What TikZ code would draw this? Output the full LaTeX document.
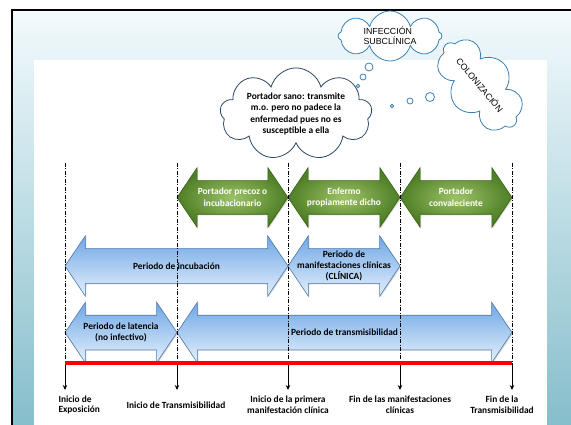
\documentclass[tikz,border=0pt]{standalone}
\usepackage{fontspec}
\setmainfont{Carlito}
\newfontfamily\arialfont{Liberation Sans}
\usetikzlibrary{shapes.arrows,shapes.symbols,shadows,arrows.meta}
\definecolor{bgtop}{HTML}{F3FAFD}
\definecolor{bgmid}{HTML}{E4F2F7}
\definecolor{bgbot}{HTML}{86BECB}
\definecolor{greendark}{HTML}{4E7E26}
\definecolor{greenlight}{HTML}{9DC266}
\definecolor{greenline}{HTML}{3C6419}
\definecolor{bluetop}{HTML}{6DA6E6}
\definecolor{bluebot}{HTML}{E6F1FC}
\definecolor{blueline}{HTML}{4D78A8}
\definecolor{cloudblue}{HTML}{3A80B4}
\definecolor{cloudnavy}{HTML}{2B4666}
\begin{document}
\begin{tikzpicture}
        [x=1pt, y=-1pt,
        greenArrow/.style={double arrow, double arrow tip angle=112, double arrow head extend=13, inner xsep=0pt, inner ysep=16.5pt,
            draw=greenline, line width=0.6pt, inner color=greenlight, outer color=greendark,
            drop shadow={opacity=0.3, shadow xshift=1pt, shadow yshift=-1pt}},
        blueArrow/.style={double arrow, double arrow tip angle=112, double arrow head extend=13, inner xsep=0pt, inner ysep=17pt,
            draw=blueline, line width=0.6pt, top color=bluetop, bottom color=bluebot,
            drop shadow={opacity=0.3, shadow xshift=1pt, shadow yshift=-1pt}},
        greenText/.style={align=center, text=white, font=\bfseries\fontsize{9.4}{11.6}\selectfont},
        blueText/.style={align=center, font=\bfseries\fontsize{9.4}{11.4}\selectfont},
        timeText/.style={align=center, font=\bfseries\fontsize{9.4}{10.8}\selectfont},
        cloudSoft/.style={cloud, cloud puffs=8, cloud ignores aspect, draw=cloudblue, line width=0.8pt, fill=white, inner sep=0pt,
            font=\arialfont\fontsize{8.8}{10.4}\selectfont},
        bubble/.style={circle, draw=cloudblue, line width=0.8pt, fill=white, inner sep=0pt}]
        \useasboundingbox (0,0) rectangle (571,425);

        % slide background
        \shade[top color=bgtop, middle color=bgmid, bottom color=bgbot] (12,10) rectangle (571,425);
        \fill[white] (34,60) rectangle (547,425);
        \draw[line width=2.2pt] (12,425) -- (12,10) -- (571,10);

        % clouds
        \node[cloud, cloud puffs=9, cloud ignores aspect, draw=cloudnavy, line width=0.8pt, fill=white, inner sep=0pt,
            minimum width=152, minimum height=88, align=center, font=\bfseries\fontsize{9.4}{11.3}\selectfont]
            (sano) at (296,114) {Portador sano: transmite\\m.o. pero no padece la\\enfermedad pues no es\\susceptible a ella};
        \node[cloudSoft, minimum width=104, minimum height=50, align=left] (subcl) at (390,36) {INFECCIÓN\\SUBCLÍNICA};
        \node[cloudSoft, minimum width=106, minimum height=64, rotate=-50] (colon) at (480,85) {COLONIZACIÓN};
        \node[bubble, minimum size=3.6] (s1) at (358,86) {};
        \node[bubble, minimum size=6] (s2) at (363,77) {};
        \node[bubble, minimum size=8] (s3) at (369,67) {};
        \node[bubble, minimum size=3.6] (c1) at (392,106) {};
        \node[bubble, minimum size=6] (c2) at (410,101) {};
        \node[bubble, minimum size=9] (c3) at (430,97) {};

        % time points
        \foreach \x/\t in {65/a,177/b,288/c,400/d,512/e}{
            \coordinate (up\t) at (\x,163);
            \coordinate (mid\t) at (\x,363);
            \coordinate (down\t) at (\x,390);
        }

        % carrier stages
        \node[greenArrow, minimum height=111] (precoz) at (232.5,197.5)
            {}; \node[greenText] at (precoz.center) {Portador precoz o\\incubacionario};
        \node[greenArrow, minimum height=112] (enfermo) at (344,197.5)
            {}; \node[greenText] at (enfermo.center) {Enfermo\\propiamente dicho};
        \node[greenArrow, minimum height=112] (conval) at (456,197.5)
            {}; \node[greenText] at (conval.center) {Portador\\convaleciente};

        % periods
        \node[blueArrow, minimum height=223] (incub) at (176.5,266)
            {}; \node[blueText] at (incub.center) {Periodo de incubación};
        \node[blueArrow, minimum height=112] (clin) at (344,266)
            {}; \node[blueText] at (clin.center) {Periodo de\\manifestaciones clínicas\\(CLÍNICA)};
        \node[blueArrow, minimum height=112] (laten) at (121,332.5)
            {}; \node[blueText] at (laten.center) {Periodo de latencia\\(no infectivo)};
        \node[blueArrow, minimum height=335] (transm) at (344.5,332.5)
            {}; \node[blueText] at (transm.center) {Periodo de transmisibilidad};

        \foreach \t in {a,b,c,d,e}{
            \draw[line width=0.9pt, dash pattern=on 4pt off 1.5pt on 1pt off 1.5pt] (up\t) -- (mid\t);
            \draw[line width=0.9pt, -{Stealth[length=5pt, width=4.5pt]}] (mid\t) -- (down\t);
        }
        \draw[red, line width=4pt] (mida) -- (mide);

        \node[timeText, anchor=west, align=left] (expo) at (55,405) {Inicio de\\Exposición};
        \node[timeText] (initr) at (176,405) {Inicio de Transmisibilidad};
        \node[timeText] (prim) at (288,405) {Inicio de la primera\\manifestación clínica};
        \node[timeText] (finman) at (400,405) {Fin de las manifestaciones\\clínicas};
        \node[timeText] (fintr) at (502,405) {Fin de la\\Transmisibilidad};
    \end{tikzpicture}
\end{document}
